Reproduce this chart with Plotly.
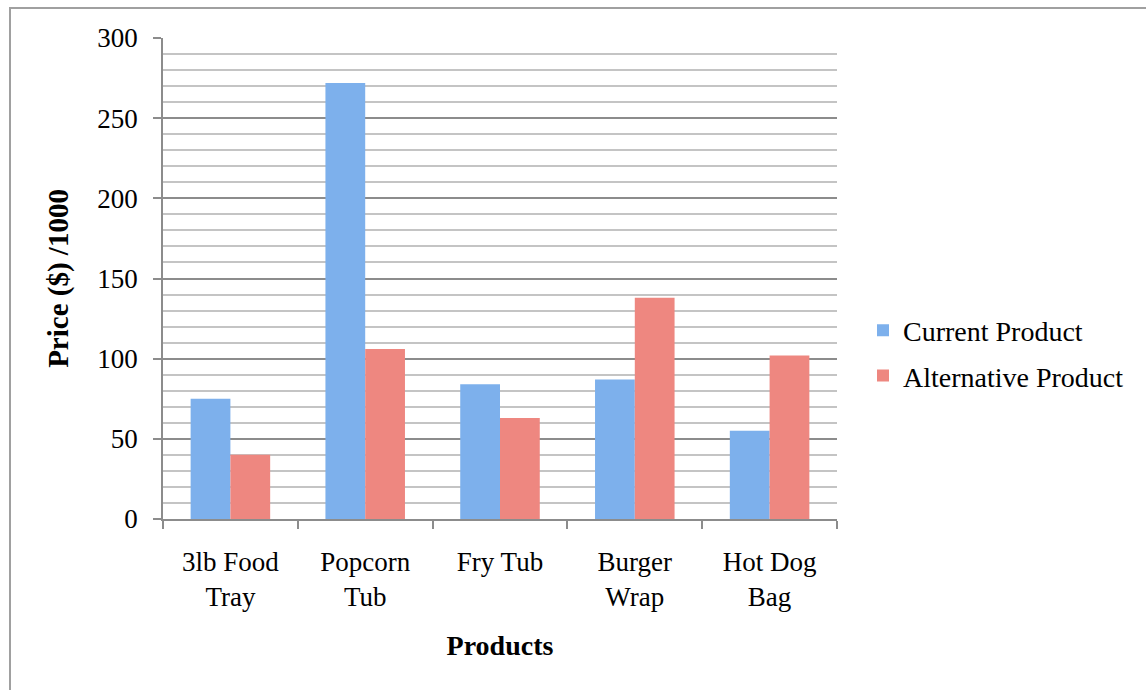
import plotly.graph_objects as go

categories = ["3lb Food<br>Tray", "Popcorn<br>Tub", "Fry Tub", "Burger<br>Wrap", "Hot Dog<br>Bag"]
current_product = [75, 272, 84, 87, 55]
alternative_product = [40, 106, 63, 138, 102]
y_ticks = [0, 50, 100, 150, 200, 250, 300]

FONT = "Liberation Serif"

fig = go.Figure()
fig.add_trace(go.Bar(
    x=categories, y=current_product, name="Current Product",
    marker=dict(color="#7db0ec", line=dict(width=0)),
    legendgroup="a",
))
fig.add_trace(go.Bar(
    x=categories, y=alternative_product, name="Alternative Product",
    marker=dict(color="#ee8780", line=dict(width=0)),
    legendgroup="b",
))

fig.update_layout(
    width=1146, height=690,
    margin=dict(l=163, r=309, t=38, b=171, autoexpand=False),
    paper_bgcolor="white", plot_bgcolor="white",
    barmode="group", bargap=0.41, bargroupgap=0,
    font=dict(family=FONT, size=27, color="black"),
    legend=dict(
        x=(863 - 163) / 674, y=(519 - 353) / 481, xanchor="left", yanchor="middle",
        font=dict(family=FONT, size=28, color="black"),
        tracegroupgap=6, traceorder="grouped",
        itemwidth=30,
    ),
    xaxis=dict(
        type="category",
        showline=True, linecolor="#8c8c8c", linewidth=1.5,
        ticks="outside", tickson="boundaries", ticklen=8, tickcolor="#8c8c8c", tickwidth=1.5,
        ticklabelstandoff=18,
        showgrid=False,
        tickfont=dict(family=FONT, size=27),
        title=dict(text="<b>Products</b>", font=dict(family=FONT, size=28), standoff=24),
    ),
    yaxis=dict(
        range=[0, 300],
        tickvals=y_ticks,
        showline=True, linecolor="#8c8c8c", linewidth=1.5,
        ticks="outside", ticklen=8, tickcolor="#8c8c8c", tickwidth=1.5,
        ticklabelstandoff=10,
        showgrid=True, gridcolor="#8c8c8c", gridwidth=1.5,
        zeroline=False,
        minor=dict(dtick=10, showgrid=True, gridcolor="#c4c4c4", gridwidth=1.5, ticks=""),
        tickfont=dict(family=FONT, size=27),
        title=dict(text="<b>Price ($) /1000</b>", font=dict(family=FONT, size=29), standoff=20),
    ),
    shapes=[dict(
        type="rect", xref="paper", yref="paper",
        x0=(10 - 163) / 674, x1=(1160 - 163) / 674,
        y0=(519 - 720) / 481, y1=1 + (38 - 8) / 481,
        line=dict(color="#a0a0a0", width=2), fillcolor="rgba(0,0,0,0)", layer="below",
    )],
)

fig.write_html("out.html")
